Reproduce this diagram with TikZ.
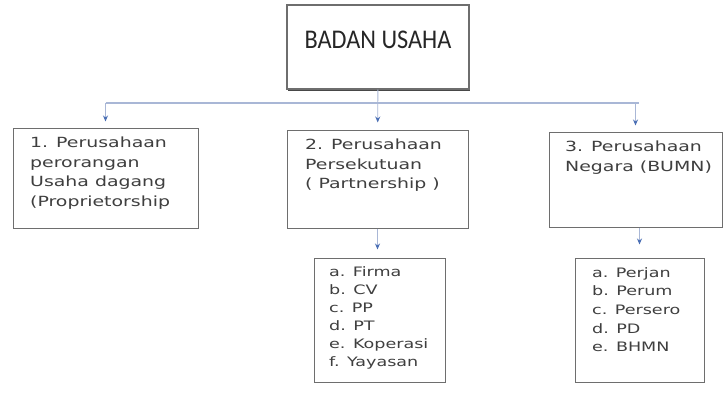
\documentclass[tikz,border=0pt]{standalone}
\usepackage{fontspec}
\usepackage{tikz}
\usetikzlibrary{shapes}
\usetikzlibrary{arrows.meta}
\usetikzlibrary{positioning}
\usetikzlibrary{calc}
\usetikzlibrary{shadows}
\newfontfamily\judulfont[FakeStretch=0.9]{Carlito}
\newfontfamily\isifont[FakeStretch=1.35]{DejaVu Sans}
\definecolor{garisabu}{HTML}{6E6E6E}
\definecolor{garisbiru}{HTML}{A9B7D6}
\definecolor{ujungbiru}{HTML}{4A6FB5}
\definecolor{tulisan}{HTML}{3F3F3F}
\tikzstyle{kotak}=[rectangle,draw=garisabu,line width=1pt,fill=white,inner sep=0pt,
drop shadow={shadow xshift=0.6pt,shadow yshift=-1pt,fill=black!60,opacity=0.6}]
\tikzstyle{judul}=[rectangle,draw=garisabu,line width=1.2pt,fill=white,inner sep=0pt,
drop shadow={shadow xshift=1.2pt,shadow yshift=-2.2pt,fill=black!80,opacity=0.9}]
\tikzstyle{isi}=[anchor=north west,inner sep=0pt,align=left,text=tulisan,
font=\isifont\fontsize{14}{19.5}\selectfont]
\tikzstyle{isisub}=[isi,font=\isifont\fontsize{13}{18}\selectfont]
\tikzstyle{cabang}=[draw=garisbiru,line width=1.3pt]
\tikzstyle{panah}=[-{Stealth[length=6pt,width=5pt,color=ujungbiru]},draw=garisbiru,line width=0.9pt]

\begin{document}
\begin{tikzpicture}[x=1pt,y=-1pt]
\useasboundingbox[fill=white] (0,0) rectangle (723,396);
% kotak
\node[judul,minimum width=182pt,minimum height=84pt] (bu) at (378,47) {};
\node[font=\judulfont\fontsize{27}{30}\selectfont,text=black!85,inner sep=0pt] (bu-t) at (378,40) {BADAN USAHA};
\node[kotak,minimum width=185pt,minimum height=100pt] (p1) at (105.5,178) {};
\node[kotak,minimum width=181pt,minimum height=98pt] (p2) at (377.5,179) {};
\node[kotak,minimum width=173pt,minimum height=95pt] (p3) at (635.5,179.5) {};
\node[kotak,minimum width=131pt,minimum height=124pt] (p2a) at (379.5,320) {};
\node[kotak,minimum width=129pt,minimum height=124pt] (p3a) at (639.5,320) {};
% tulisan
\node[isi] (p1-t) at (30,137) {1. Perusahaan\\perorangan\\Usaha dagang\\(Proprietorship};
\node[isi] (p2-t) at (305,139) {2. Perusahaan\\Persekutuan\\( Partnership )};
\node[isi] (p3-t) at (565,141) {3. Perusahaan\\Negara (BUMN)};
\node[isisub] (p2a-t) at (329,266) {a. Firma\\b. CV\\c. PP\\d. PT\\e. Koperasi\\f. Yayasan};
\node[isisub,font=\isifont\fontsize{13}{18.7}\selectfont] (p3a-t) at (592,267) {a. Perjan\\b. Perum\\c. Persero\\d. PD\\e. BHMN};
% panah
\coordinate (cb) at (0,103);
\draw[cabang] (p1.north |- cb) -- ([xshift=3pt]p3.north |- cb);
\draw[panah,shorten >=7pt] (bu) -- (p2);
\draw[panah,shorten >=6pt] (p1.north |- cb) -- (p1);
\draw[panah,shorten >=6pt] (p3.north |- cb) -- (p3);
\draw[panah,shorten >=8pt] (p2.south) -- (p2.south |- p2a.north);
\draw[panah,shorten >=13pt] (p3a.north |- p3.south) -- (p3a);
\end{tikzpicture}
\end{document}
